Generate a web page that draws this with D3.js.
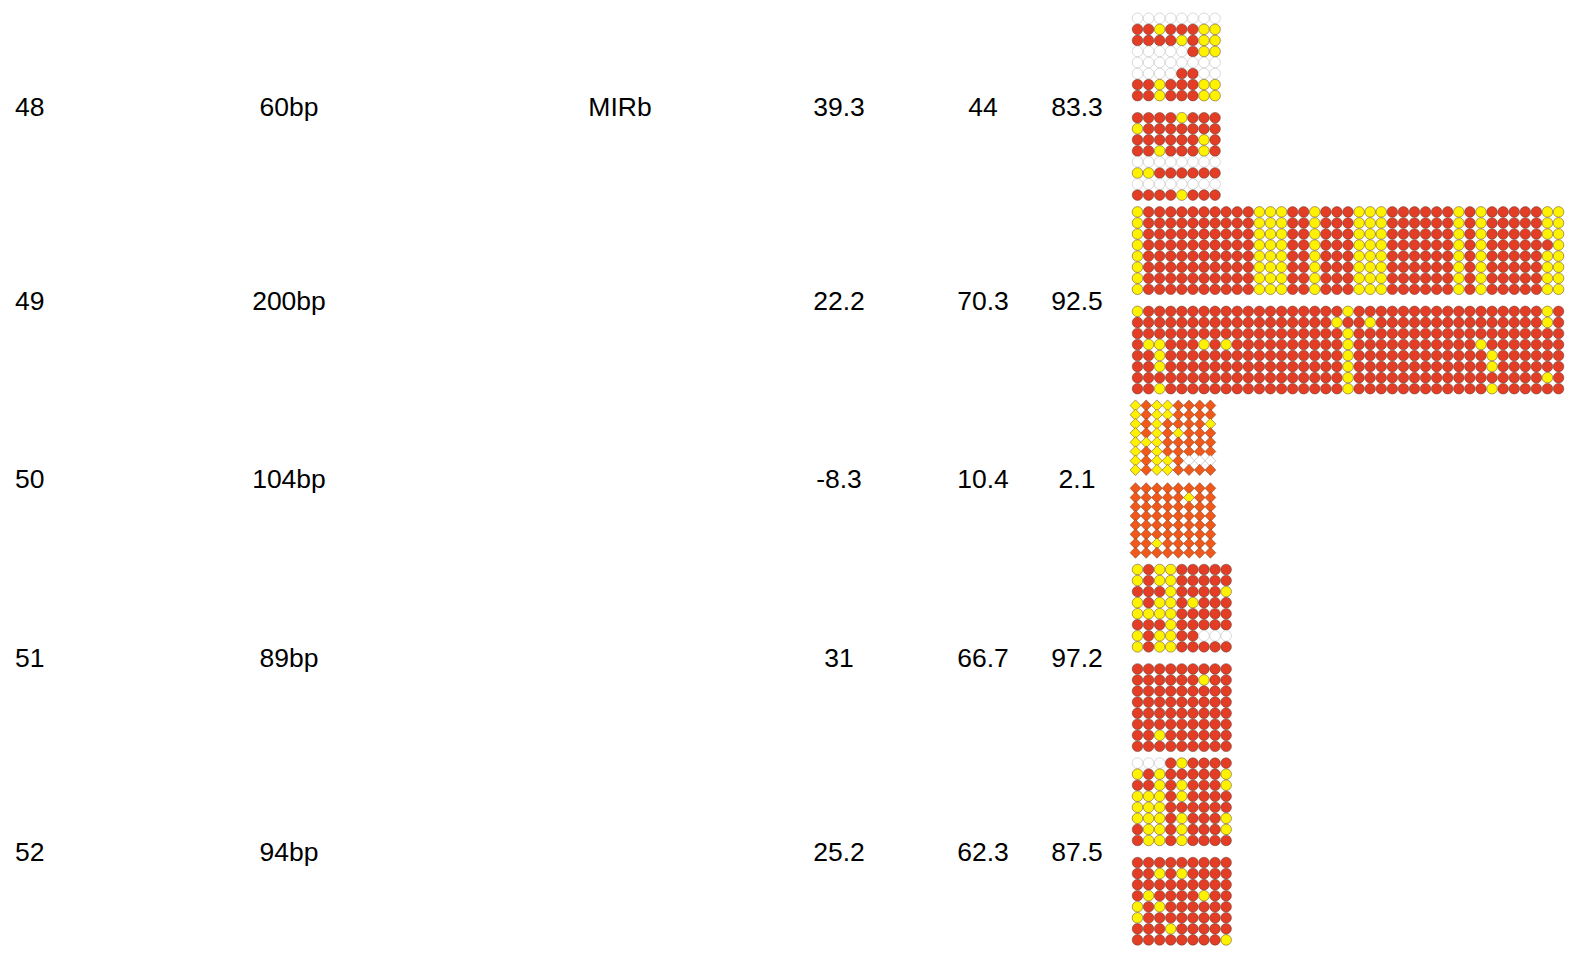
<!DOCTYPE html>
<html>
<head>
<meta charset="utf-8">
<script src="https://cdn.jsdelivr.net/npm/d3@7"></script>
<style>
  body { margin: 0; background: #fff; }
  svg { display: block; }
  text { font-family: "Liberation Sans", Arial, sans-serif; font-size: 26.5px; fill: #000; }
</style>
</head>
<body>
<svg id="chart" width="1573" height="955"></svg>
<script>
// table columns
const ids = ["48", "49", "50", "51", "52"];
const lengths = ["60bp", "200bp", "104bp", "89bp", "94bp"];
const repeats = ["MIRb", "", "", "", ""];
const colA = ["39.3", "22.2", "-8.3", "31", "25.2"];
const colB = ["44", "70.3", "10.4", "66.7", "62.3"];
const colC = ["83.3", "92.5", "2.1", "97.2", "87.5"];
const shapes = ["circle", "circle", "diamond", "circle", "circle"];

// methylation patterns, R = methylated, Y = unmethylated, W = no call
const pat48a = ["WWWWWWWW", "RRYRRRYY", "RRRRYRYY", "WWWWWRYY", "WWWWWWWW", "WWWWRRWW", "RRYRRRYY", "RRYRRRYY"];
const pat48b = ["RRRRYRRR", "YRRRRRRR", "RRRRRRYR", "RRYRRRYR", "WWWWWWWW", "YYRRRRRR", "WWWWWWWW", "RRRRYRRR"];
const pat49a = [
  "YRRRRRRRRR RYYYRRYRRR YYYRRRRRRY RYRRRRRYY",
  "YRRRRRRRRR RYYYRRYRRR YYYRRRRRRY RYRRRRRYY",
  "YRRRRRRRRR RYYYRRYRRR YYYRRRRRRY RYRRRRRYY",
  "YRRRRRRRRR RYYYRRYRRR YYYRRRRRRY RYRRRRRRY",
  "YRRRRRRRRR RYYYRRYRRR YYYRRRRRRY RYRRRRRYY",
  "YRRRRRRRRR RYYYRRYRRR YYYRRRRRRY RYRRRRRYY",
  "YRRRRRRRRR RYYYRRYRRR YYYRRRRRRY RYRRRRRYY",
  "YRRRRRRRRR RYYYRRYRRR YYYRRRRRRY RYRRRRRYY"
];
const pat49b = [
  "YRRRRRRRRR RRRRRRRRRY RRRRRRRRRR RRRRRRRYR",
  "RRRRRRRRRR RRRRRRRRYR RYRRRRRRRR RRRRRRRYR",
  "RRRRRRRRRR RRRRRRRRRY RRRRRRRRRR RRRRRRRRR",
  "RYYRRRYRYR RRRRRRRRRY RRRRRRRRRR RYRRRRRRR",
  "RRYRRRRRRR RRRRRRRRRY RRRRRRRRRR RRYRRRRRR",
  "RRYRRRRRRR RRRRRRRRRY RRRRRRRRRR RRYRRRRRR",
  "RRRRRRRRRR RRRRRRRRRY RRRRRRRRRR RRRRRRRYR",
  "RRYRRRRRRR RRRRRRRRRY RRRRRRRRRR RRYRRRRRR"
];
const pat50a = ["YRYYRRRR", "YRYYRRRR", "YRYRRRRY", "YRYRYRRR", "YYYRRRRR", "YRYRRRRR", "YRYYRWWW", "YRYYRRRR"];
const pat50b = ["RRRRRRRR", "RRRRRYRR", "RRRRRRRR", "RRRRRRRR", "RRRRRRRR", "RRRRRRRR", "RRYRRRRR", "RRRRRRRR"];
const pat51a = ["YRYYRRRRR", "YRYYRRRRR", "RRRYRRRRY", "YRYYRYRRR", "YYYYRRRRR", "RRRYRRRRR", "YRYYRRWWW", "YRYYRRRRR"];
const pat51b = ["RRRRRRRRR", "RRRRRRYRR", "RRRRRRRRR", "RRRRRRRRR", "RRRRRRRRR", "RRRRRRRRR", "RRYRRRRRR", "RRRRRRRRR"];
const pat52a = ["WWWRYRRRR", "YRYRRRRRY", "RRYRYRRRY", "YYYRYRRRR", "YYYRRRRRR", "YYYRYRRRY", "RYYRYRRRY", "RYYRYRRRR"];
const pat52b = ["RRRRRRRRR", "RRYRYRRRR", "RRRRRRRRR", "RYRRRRYRR", "YRYRRRRRR", "YRRRRRRRR", "RRRYRRRRR", "RRRRRRRRY"];

const blocks = [[pat48a, pat48b], [pat49a, pat49b], [pat50a, pat50b], [pat51a, pat51b], [pat52a, pat52b]];

const svg = d3.select("#chart");

const circleFill = { R: "#e33d25", Y: "#fff200", W: "#ffffff" };
const diamondFill = { R: "#f0591a", Y: "#fff200", W: "#ffffff" };

// layout: each group = block a (8 rows), one empty row, block b (8 rows)
const rowStep = { circle: 11.05, diamond: 9.2 };
const colStep = { circle: 11.08, diamond: 10.7 };
const gridX0 = { circle: 1137.5, diamond: 1135.5 };
const groupGap = 16.8;

let yCursor = 18.3;
const groups = ids.map((id, i) => {
  const shape = shapes[i];
  const nRows = blocks[i][0].length + 1 + blocks[i][1].length;
  const y = d3.scaleLinear().domain([0, nRows - 1]).range([yCursor, yCursor + (nRows - 1) * rowStep[shape]]);
  const nCols = blocks[i][0][0].replace(/ /g, "").length;
  const x = d3.scaleLinear().domain([0, nCols - 1]).range([gridX0[shape], gridX0[shape] + (nCols - 1) * colStep[shape]]);
  yCursor = y.range()[1] + groupGap;
  return { i, shape, x, y, nRows };
});

// text columns
const cols = [
  { vals: ids, x: 15, anchor: "start" },
  { vals: lengths, x: 289, anchor: "middle" },
  { vals: repeats, x: 620, anchor: "middle" },
  { vals: colA, x: 839, anchor: "middle" },
  { vals: colB, x: 983, anchor: "middle" },
  { vals: colC, x: 1077, anchor: "middle" }
];

cols.forEach(c => {
  svg.append("g").selectAll("text")
    .data(groups)
    .join("text")
    .attr("x", c.x)
    .attr("y", d => (d.y.range()[0] + d.y.range()[1]) / 2)
    .attr("dy", "0.35em")
    .attr("text-anchor", c.anchor)
    .text(d => c.vals[d.i]);
});

// grids
groups.forEach(gr => {
  const cells = [];
  blocks[gr.i].forEach((pat, b) => {
    const offset = b === 0 ? 0 : pat.length + 1;
    pat.forEach((row, r) => {
      row.replace(/ /g, "").split("").forEach((v, c) => {
        cells.push({ row: offset + r, col: c, v });
      });
    });
  });

  const g = svg.append("g").attr("class", "grid-" + ids[gr.i]);
  if (gr.shape === "circle") {
    g.selectAll("circle")
      .data(cells)
      .join("circle")
      .attr("cx", d => gr.x(d.col))
      .attr("cy", d => gr.y(d.row))
      .attr("r", 5.3)
      .attr("fill", d => circleFill[d.v])
      .attr("stroke", d => d.v === "W" ? "#b5b5b5" : "#5a3a30")
      .attr("stroke-width", 0.5);
  } else {
    const hw = 5.4, hh = 5.6;
    g.selectAll("path")
      .data(cells)
      .join("path")
      .attr("d", d => {
        const cx = gr.x(d.col), cy = gr.y(d.row);
        return `M${cx},${cy - hh}L${cx + hw},${cy}L${cx},${cy + hh}L${cx - hw},${cy}Z`;
      })
      .attr("fill", d => diamondFill[d.v])
      .attr("stroke", d => d.v === "W" ? "#999" : "#6a3a20")
      .attr("stroke-width", 0.5);
  }
});
</script>
</body>
</html>
